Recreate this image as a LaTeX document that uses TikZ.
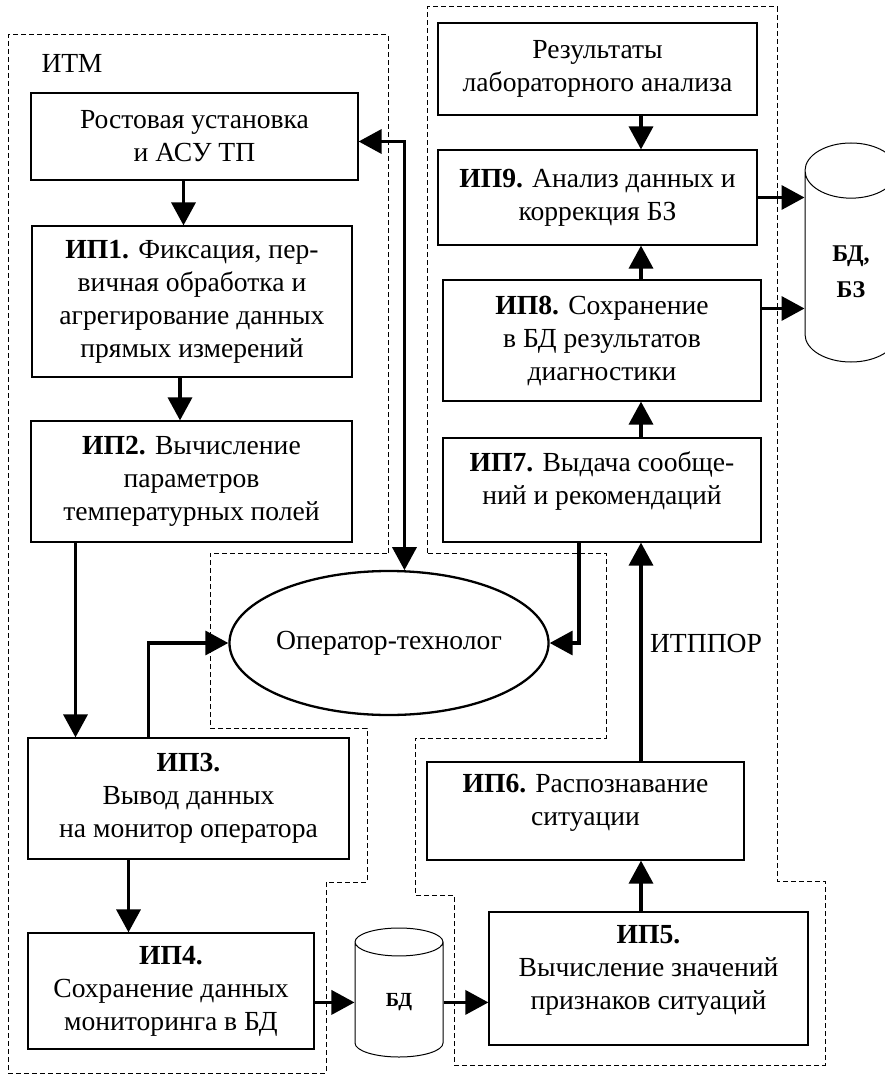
\documentclass[tikz,border=0pt]{standalone}
\usepackage{fontspec}
\setmainfont{Liberation Serif}
\usetikzlibrary{arrows.meta,shapes.geometric}

\begin{document}
\begin{tikzpicture}[x=1pt, y=-1pt, font=\fontsize{27.6}{33}\selectfont, >={Triangle[length=23pt,width=24pt]}, proc/.style={rectangle, draw, line width=1.2pt, align=center, inner sep=0pt}, flow/.style={line width=3.5pt, ->}, zone/.style={line width=1pt, dash pattern=on 5pt off 3pt}, store/.style={cylinder, shape border rotate=90, draw, line width=1pt, anchor=shape center, align=center, font=\bfseries\fontsize{20}{24}\selectfont}]
  \useasboundingbox (0,0) rectangle (885,1075);
  \draw[zone] (388,553) -- (388,35) -- (8,35) -- (8,1073) -- (326,1073) -- (326,882) -- (367,882) -- (367,728) -- (210,728) -- (210,553) -- cycle;
  \draw[zone] (427,553) -- (427,7) -- (777,7) -- (777,881) -- (825,881) -- (825,1065) -- (454,1065) -- (454,895) -- (415,895) -- (415,738) -- (606,738) -- (606,553) -- cycle;
  \node[anchor=west] (itm) at (38,63) {ИТМ};
  \node (itppor) at (706,643) {ИТППОР};
  \node[proc, minimum width=327pt, minimum height=87pt] (rost) at (194.5,136.5) {Ростовая установка\\и АСУ ТП};
  \node[proc, minimum width=320pt, minimum height=151pt] (ip1) at (192,301.5) {\textbf{ИП1.} Фиксация, пер-\\вичная обработка и\\агрегирование данных\\прямых измерений};
  \node[proc, minimum width=321pt, minimum height=121pt] (ip2) at (191.5,481.5) {\textbf{ИП2.} Вычисление\\параметров\\температурных полей};
  \node[proc, minimum width=321pt, minimum height=121pt] (ip3) at (188.5,798.5) {\textbf{ИП3.}\\Вывод данных\\на монитор оператора};
  \node[proc, minimum width=286pt, minimum height=116pt] (ip4) at (171,991) {\textbf{ИП4.}\\Сохранение данных\\мониторинга в БД};
  \node[proc, minimum width=319pt, minimum height=92pt] (res) at (597.5,69) {Результаты\\лабораторного анализа};
  \node[proc, minimum width=319pt, minimum height=95pt] (ip9) at (597.5,197.5) {\textbf{ИП9.} Анализ данных и\\коррекция БЗ};
  \node[proc, minimum width=318pt, minimum height=121pt] (ip8) at (602,340.5) {\textbf{ИП8.} Сохранение\\в БД результатов\\диагностики};
  \node[proc, minimum width=318pt, minimum height=104pt] (ip7) at (602,490) {\textbf{ИП7.} Выдача сообще-\\ний и рекомендаций\\[-10pt]};
  \node[proc, minimum width=317pt, minimum height=98pt] (ip6) at (585.5,811) {\textbf{ИП6.} Распознавание\\ситуации\\[-10pt]};
  \node[proc, minimum width=319pt, minimum height=133pt] (ip5) at (648.5,978.5) {\textbf{ИП5.}\\Вычисление значений\\признаков ситуаций\\[-10pt]};
  \node[ellipse, draw, line width=2.3pt, minimum width=278pt, minimum height=144pt, inner sep=0pt] (op) at (389,643) {Оператор-технолог};
  \node[store, aspect=0.85, minimum width=88pt, minimum height=129pt] (bd) at (399,992.5) {БД};
  \node[store, aspect=1.25, minimum width=92pt, minimum height=219pt, font=\bfseries\fontsize{24}{36}\selectfont] (bdbz) at (851,252.5) {БД,\\БЗ};
  \coordinate (col) at (641,0);
  \draw[flow] ([xshift=-11pt]rost.south) -- ([xshift=-11pt]rost.south |- ip1.north);
  \draw[flow] ([xshift=-12pt]ip1.south) -- ([xshift=-12pt]ip1.south |- ip2.north);
  \draw[flow] ([xshift=-116pt]ip2.south) -- ([xshift=-116pt]ip2.south |- ip3.north);
  \draw[flow] ([xshift=-40pt]ip3.north) |- (op.west);
  \draw[flow] ([xshift=-60pt]ip3.south) -- ([xshift=-60pt]ip3.south |- ip4.north);
  \draw[flow] (bd.west -| ip4.east) -- (bd.west);
  \draw[flow] (bd.east) -- (bd.east -| ip5.west);
  \draw[flow] (ip5.north -| col) -- (ip6.south -| col);
  \draw[flow] (ip6.north -| col) -- (ip7.south -| col);
  \draw[flow] ([xshift=-23pt]ip7.south) |- (op.east);
  \draw[flow] (ip7.north -| col) -- (ip8.south -| col);
  \draw[flow] (ip8.north -| col) -- (ip9.south -| col);
  \draw[flow] (res.south -| col) -- (ip9.north -| col);
  \draw[flow] (ip9.east) -- (ip9.east -| bdbz.west);
  \draw[flow] ([yshift=32pt]ip8.east) -- ([yshift=32pt]ip8.east -| bdbz.west);
  \draw[flow, <->] ([yshift=-5pt]rost.east) -| (op.78);
\end{tikzpicture}
\end{document}
